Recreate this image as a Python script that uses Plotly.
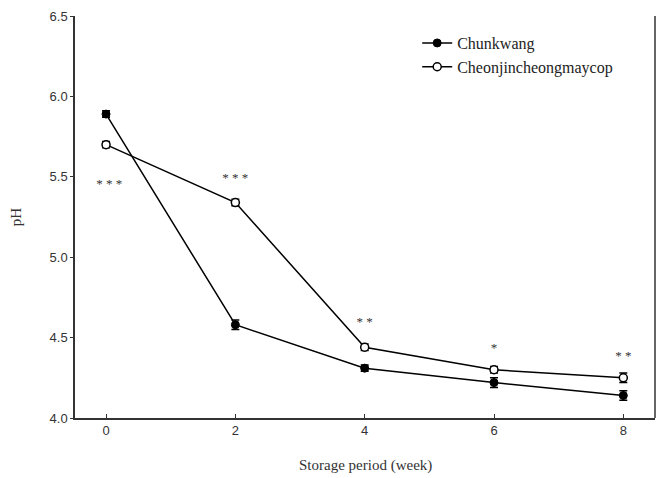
import plotly.graph_objects as go

weeks = [0, 2, 4, 6, 8]
chunkwang = [5.89, 4.58, 4.31, 4.22, 4.14]
chunkwang_err = [0.02, 0.03, 0.02, 0.03, 0.03]
cheonjin = [5.70, 5.34, 4.44, 4.30, 4.25]
cheonjin_err = [0.02, 0.02, 0.02, 0.02, 0.03]
sig_labels = ["* * *", "* * *", "* *", "*", "* *"]
sig_x = [0.05, 0.0, 0.0, 0.0, 0.0]
sig_y = [5.45, 5.49, 4.59, 4.43, 4.38]

serif = "Liberation Serif, Times New Roman, serif"
sans = "Liberation Sans, Arial, sans-serif"

fig = go.Figure()
fig.add_trace(go.Scatter(
    x=weeks, y=chunkwang, name="Chunkwang", mode="lines+markers",
    line=dict(color="black", width=1.5),
    marker=dict(symbol="circle", size=8, color="black", line=dict(color="black", width=1)),
    error_y=dict(type="data", array=chunkwang_err, color="black", thickness=1.5, width=4),
))
fig.add_trace(go.Scatter(
    x=weeks, y=cheonjin, name="Cheonjincheongmaycop", mode="lines+markers",
    line=dict(color="black", width=1.5),
    marker=dict(symbol="circle", size=8, color="white", line=dict(color="black", width=1.5)),
    error_y=dict(type="data", array=cheonjin_err, color="black", thickness=1.5, width=4),
))
fig.add_trace(go.Scatter(
    x=[w + dx for w, dx in zip(weeks, sig_x)], y=sig_y, mode="text", text=sig_labels,
    textfont=dict(family=serif, size=13, color="#333"), showlegend=False, hoverinfo="skip",
))

fig.update_layout(
    width=665, height=478,
    margin=dict(l=75, r=10, t=16, b=60),
    paper_bgcolor="white", plot_bgcolor="white",
    showlegend=True,
    legend=dict(x=0.59, y=0.975, xanchor="left", yanchor="top",
                font=dict(family=serif, size=16, color="#222"),
                bgcolor="rgba(0,0,0,0)", tracegroupgap=0, itemwidth=30),
    xaxis=dict(range=[-0.48, 8.49], tickvals=weeks, ticktext=[str(w) for w in weeks],
               showgrid=False, zeroline=False, showline=True, linecolor="#333", linewidth=1.5,
               mirror=False, ticks="inside", ticklen=4, tickcolor="#333",
               tickfont=dict(family=sans, size=13, color="#333"),
               automargin=False),
    yaxis=dict(range=[4.0, 6.5], tickvals=[4.0, 4.5, 5.0, 5.5, 6.0, 6.5],
               ticktext=["4.0", "4.5", "5.0", "5.5", "6.0", "6.5"],
               showgrid=False, zeroline=False, showline=True, linecolor="#333", linewidth=1.5,
               ticks="outside", ticklen=3, tickcolor="#333",
               tickfont=dict(family=sans, size=13, color="#333"),
               automargin=False,
               title=dict(text="pH", font=dict(family=serif, size=15, color="#333"), standoff=24)),
    annotations=[dict(text="Storage period (week)", xref="paper", yref="paper",
                      x=0.5, y=-0.118, xanchor="center", yanchor="middle", showarrow=False,
                      font=dict(family=serif, size=15, color="#333"))],
)
# right border line
fig.add_shape(type="line", xref="paper", yref="paper", x0=1, x1=1, y0=0, y1=1,
              line=dict(color="#333", width=1.5))

fig.write_html("out.html")
